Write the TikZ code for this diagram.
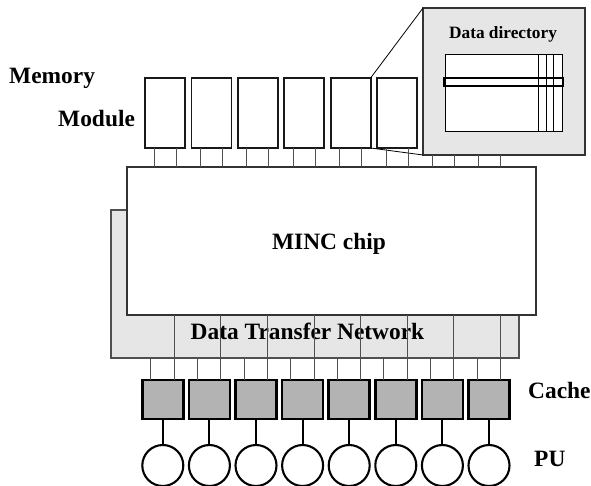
\documentclass[tikz,border=0pt]{standalone}
\usepackage{fontspec}
\setmainfont{Liberation Serif}
\usetikzlibrary{calc}
\definecolor{lightfill}{HTML}{E6E6E6}
\definecolor{cachefill}{HTML}{B3B3B3}
\definecolor{wire}{HTML}{505050}
\definecolor{edge}{HTML}{333333}
\tikzset{
  big/.style={font=\fontsize{23.4}{28}\selectfont\bfseries, inner sep=0pt},
  small/.style={font=\fontsize{17.3}{21}\selectfont\bfseries, inner sep=0pt},
  modbox/.style={draw=black!90, line width=1.8pt, fill=white, minimum width=40pt, minimum height=70pt, inner sep=0pt, outer sep=0pt},
  cachebox/.style={draw=black, line width=2.6pt, fill=cachefill, minimum width=41pt, minimum height=39pt, inner sep=0pt, outer sep=0pt},
  pucircle/.style={circle, draw=black, line width=2.1pt, fill=white, minimum size=41pt, inner sep=0pt, outer sep=0pt},
  thinwire/.style={draw=wire, line width=0.9pt},
  puwire/.style={draw=black, line width=2pt},
}
\begin{document}
\begin{tikzpicture}[x=1pt,y=-1pt]
\useasboundingbox (0,0) rectangle (591,486);
% Data transfer network (behind) and MINC chip
\node[draw=wire, line width=1.2pt, fill=lightfill, minimum width=408pt, minimum height=148pt, inner sep=0pt, outer sep=0pt] (dtn) at (315,284) {};
\node[big, anchor=base] (dtnlabel) at (307.5,339) {Data Transfer Network};
\node[draw=edge, line width=1.2pt, fill=white, minimum width=409pt, minimum height=148pt, inner sep=0pt, outer sep=0pt] (chip) at (331.5,241) {};
\node[big, anchor=base] (chiplabel) at (329,249) {MINC chip};
% memory modules
\foreach \i in {1,...,6} {
  \node[modbox] (m\i) at ({165+46.4*(\i-1)},113) {};
}
% data directory box
\node[draw=edge, line width=1.3pt, fill=lightfill, minimum width=162pt, minimum height=147pt, inner sep=0pt, outer sep=0pt] (dd) at (504,81.5) {};
\node[small, anchor=base] (ddlabel) at (503,39) {Data directory};
\node[draw=black, line width=0.8pt, fill=white, minimum width=117pt, minimum height=77pt, inner sep=0pt, outer sep=0pt] (tab) at (503.5,92.5) {};
\foreach \x in {538,546,553} {
  \draw[black, line width=0.8pt] (\x,0 |- tab.north) -- (\x,0 |- tab.south);
}
\node[draw=black, line width=2pt, minimum width=119pt, minimum height=8pt, inner sep=0pt, outer sep=0pt] (row) at (503.5,82) {};
% zoom lines
\draw[black, line width=0.8pt] (m5.north east) -- (dd.north west);
\draw[black, line width=0.8pt] (m5.south east) -- (dd.south west);
% legs from modules to chip
\foreach \i in {1,...,6} {
  \draw[thinwire] ([xshift=9pt]m\i.south west) -- ([xshift=9pt]m\i.south west |- chip.north);
  \draw[thinwire] ([xshift=31pt]m\i.south west) -- ([xshift=31pt]m\i.south west |- chip.north);
}
\foreach \x in {432.4,454.4,478.8,500.8} {
  \draw[thinwire] (\x,0 |- dd.south) -- (\x,0 |- chip.north);
}
% caches and PUs
\foreach \i in {1,...,8} {
  \node[cachebox] (c\i) at ({162.8+46.6*(\i-1)},399.5) {};
  \node[pucircle] (p\i) at ({162.8+46.6*(\i-1)},465.5) {};
  \draw[puwire] (c\i.south) -- (p\i.north);
  \draw[thinwire] ([xshift=8.5pt]c\i.north west) -- ([xshift=8.5pt]c\i.north west |- dtn.south);
  \draw[thinwire] ([xshift=32pt]c\i.north west) -- ([xshift=32pt]c\i.north west |- chip.south);
}
% labels
\node[big, anchor=base west] (memlabel) at (9,84) {Memory};
\node[big, anchor=base west] (modlabel) at (58,127) {Module};
\node[big, anchor=base west] (cachelabel) at (528,398) {Cache};
\node[big, anchor=base west] (pulabel) at (534,466) {PU};
\end{tikzpicture}
\end{document}
